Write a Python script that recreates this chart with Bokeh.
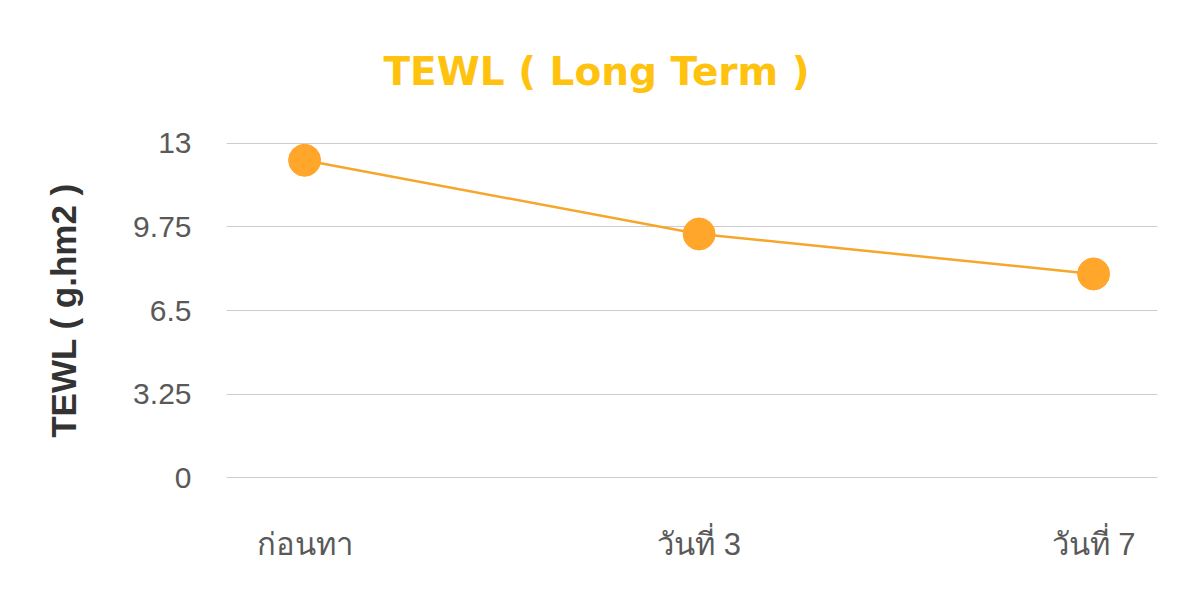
from bokeh.plotting import figure
from bokeh.models import Range1d, FixedTicker
from bokeh.embed import file_html
from bokeh.resources import INLINE

categories = ["ก่อนทา", "วันที่ 3", "วันที่ 7"]
values = [12.33, 9.47, 7.92]
y_ticks = [0, 3.25, 6.5, 9.75, 13]
y_tick_labels = ["0", "3.25", "6.5", "9.75", "13"]

xs = list(range(len(categories)))

X0, X1 = -0.198, 2.162
p = figure(width=1184, height=584, output_backend="svg", toolbar_location=None,
           x_range=Range1d(X0, X1), y_range=Range1d(-0.02, 13.02),
           frame_width=931, frame_height=336,
           min_border_left=226, min_border_top=142, min_border_right=27, min_border_bottom=106,
           title="TEWL ( Long Term )")
p.outline_line_color = None
p.background_fill_color = "white"

p.title.align = "left"
p.title.vertical_align = "top"
p.title.text_font = "DejaVu Sans"
p.title.text_font_style = "bold"
p.title.text_font_size = "39px"
p.title.text_color = "#FFC20E"
p.title.standoff = 94
p.title.offset = 157

p.line(xs, values, line_color="#F5A62B", line_width=2.5)
p.scatter(xs, values, size=32, fill_color="#FFA62B", line_color="#FFA62B")

p.xaxis.ticker = FixedTicker(ticks=xs)
p.xaxis.major_label_overrides = {i: c for i, c in enumerate(categories)}
p.yaxis.ticker = FixedTicker(ticks=y_ticks)
p.yaxis.major_label_overrides = {t: l for t, l in zip(y_ticks, y_tick_labels)}

for ax in (p.xaxis, p.yaxis):
    ax.axis_line_color = None
    ax.major_tick_line_color = None
    ax.minor_tick_line_color = None
    ax.major_label_text_font = "Liberation Sans"
    ax.major_label_text_color = "#595959"
p.yaxis.major_label_text_font_size = "30px"
p.xaxis.major_label_text_font_size = "31px"
p.xaxis.major_label_standoff = 42
p.yaxis.major_label_standoff = 29

p.yaxis.axis_label = "TEWL ( g.hm2 )"
p.yaxis.axis_label_text_font = "Liberation Sans"
p.yaxis.axis_label_text_font_style = "bold"
p.yaxis.axis_label_text_font_size = "35px"
p.yaxis.axis_label_text_color = "#333333"
p.yaxis.axis_label_standoff = 47

p.xgrid.grid_line_color = None
p.ygrid.grid_line_color = "#CCCCCC"
p.ygrid.grid_line_width = 1

open("out.html", "w").write(file_html(p, INLINE))
